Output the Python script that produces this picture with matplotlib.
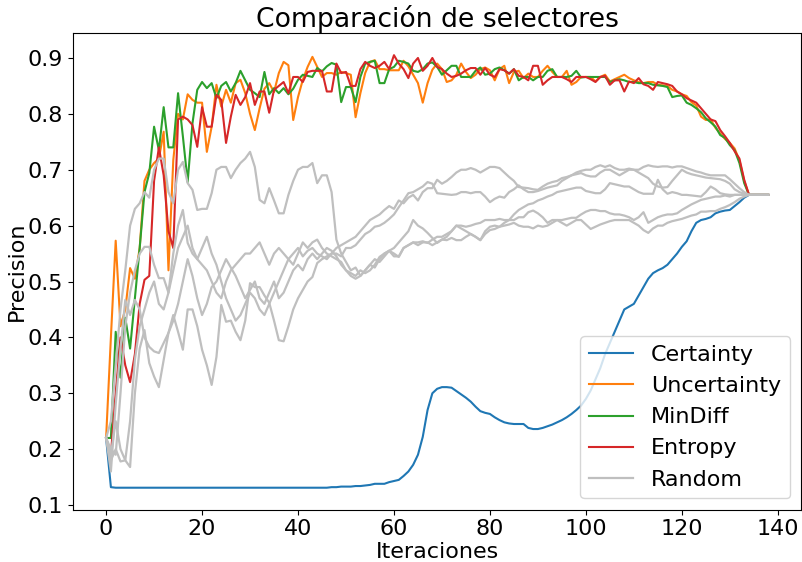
import matplotlib
matplotlib.use("Agg")
import matplotlib.pyplot as plt
import numpy as np

iters = np.arange(139)

certainty = [
    0.22, 0.132, 0.131, 0.131, 0.131, 0.131, 0.131, 0.131, 0.131, 0.131,
    0.131, 0.131, 0.131, 0.131, 0.131, 0.131, 0.131, 0.131, 0.131, 0.131,
    0.131, 0.131, 0.131, 0.131, 0.131, 0.131, 0.131, 0.131, 0.131, 0.131,
    0.131, 0.131, 0.131, 0.131, 0.131, 0.131, 0.131, 0.131, 0.131, 0.131,
    0.131, 0.131, 0.131, 0.131, 0.131, 0.131, 0.131, 0.132, 0.132, 0.133,
    0.133, 0.133, 0.134, 0.134, 0.135, 0.136, 0.138, 0.138, 0.138, 0.141,
    0.143, 0.145, 0.152, 0.160, 0.172, 0.190, 0.222, 0.270, 0.300, 0.308,
    0.311, 0.311, 0.310, 0.304, 0.298, 0.292, 0.285, 0.276, 0.268, 0.265,
    0.263, 0.257, 0.252, 0.248, 0.246, 0.245, 0.245, 0.245, 0.238, 0.236,
    0.236, 0.238, 0.241, 0.244, 0.248, 0.252, 0.257, 0.263, 0.270, 0.278,
    0.290, 0.305, 0.325, 0.345, 0.370, 0.390, 0.410, 0.430, 0.450, 0.455,
    0.460, 0.475, 0.490, 0.505, 0.515, 0.520, 0.524, 0.530, 0.540, 0.550,
    0.562, 0.572, 0.590, 0.605, 0.610, 0.612, 0.615, 0.622, 0.625, 0.627,
    0.628, 0.635, 0.642, 0.650, 0.655, 0.655, 0.655, 0.655, 0.655,
]

uncertainty = [
    0.22, 0.40, 0.573, 0.42, 0.45, 0.524, 0.505, 0.56, 0.68, 0.70,
    0.712, 0.72, 0.768, 0.52, 0.717, 0.80, 0.79, 0.835, 0.825, 0.82,
    0.82, 0.732, 0.777, 0.852, 0.813, 0.843, 0.82, 0.855, 0.861, 0.837,
    0.80, 0.771, 0.81, 0.845, 0.855, 0.839, 0.873, 0.893, 0.887, 0.789,
    0.83, 0.861, 0.884, 0.902, 0.884, 0.866, 0.873, 0.873, 0.870, 0.875,
    0.873, 0.870, 0.794, 0.837, 0.873, 0.893, 0.896, 0.880, 0.880, 0.878,
    0.878, 0.878, 0.895, 0.885, 0.870, 0.855, 0.820, 0.855, 0.879, 0.890,
    0.880, 0.857, 0.860, 0.870, 0.890, 0.875, 0.864, 0.870, 0.880, 0.883,
    0.878, 0.860, 0.880, 0.886, 0.855, 0.875, 0.877, 0.864, 0.872, 0.866,
    0.866, 0.877, 0.886, 0.875, 0.866, 0.866, 0.877, 0.852, 0.857, 0.866,
    0.866, 0.866, 0.858, 0.866, 0.870, 0.858, 0.862, 0.866, 0.870, 0.864,
    0.860, 0.857, 0.855, 0.857, 0.857, 0.852, 0.851, 0.850, 0.843, 0.840,
    0.835, 0.832, 0.821, 0.815, 0.795, 0.789, 0.790, 0.775, 0.765, 0.755,
    0.748, 0.738, 0.717, 0.680, 0.655, 0.655, 0.655, 0.655, 0.655,
]

mindiff = [
    0.22, 0.22, 0.41, 0.328, 0.435, 0.38, 0.47, 0.56, 0.66, 0.694,
    0.777, 0.735, 0.812, 0.74, 0.74, 0.837, 0.76, 0.678, 0.783, 0.843,
    0.857, 0.846, 0.855, 0.828, 0.85, 0.857, 0.84, 0.855, 0.877, 0.86,
    0.843, 0.837, 0.83, 0.875, 0.835, 0.846, 0.837, 0.846, 0.835, 0.845,
    0.861, 0.870, 0.868, 0.866, 0.882, 0.876, 0.885, 0.891, 0.888, 0.821,
    0.848, 0.848, 0.821, 0.866, 0.890, 0.893, 0.895, 0.855, 0.855, 0.880,
    0.884, 0.895, 0.893, 0.890, 0.877, 0.875, 0.880, 0.890, 0.892, 0.884,
    0.870, 0.878, 0.886, 0.886, 0.866, 0.866, 0.866, 0.877, 0.883, 0.870,
    0.872, 0.880, 0.883, 0.878, 0.872, 0.880, 0.860, 0.866, 0.866, 0.860,
    0.866, 0.866, 0.877, 0.880, 0.866, 0.866, 0.866, 0.868, 0.877, 0.865,
    0.866, 0.866, 0.866, 0.866, 0.866, 0.857, 0.860, 0.862, 0.860, 0.857,
    0.857, 0.855, 0.855, 0.855, 0.852, 0.851, 0.850, 0.848, 0.830, 0.832,
    0.833, 0.820, 0.816, 0.810, 0.803, 0.792, 0.785, 0.777, 0.762, 0.757,
    0.744, 0.735, 0.712, 0.676, 0.655, 0.655, 0.655, 0.655, 0.655,
]

entropy = [
    0.22, 0.19, 0.30, 0.40, 0.35, 0.32, 0.37, 0.46, 0.503, 0.51,
    0.68, 0.74, 0.69, 0.59, 0.56, 0.79, 0.795, 0.79, 0.78, 0.741,
    0.812, 0.777, 0.777, 0.834, 0.825, 0.748, 0.795, 0.834, 0.816, 0.83,
    0.855, 0.816, 0.84, 0.84, 0.802, 0.843, 0.85, 0.857, 0.837, 0.866,
    0.866, 0.857, 0.875, 0.877, 0.877, 0.877, 0.840, 0.840, 0.890, 0.873,
    0.875, 0.850, 0.850, 0.880, 0.893, 0.886, 0.882, 0.886, 0.893, 0.880,
    0.905, 0.890, 0.880, 0.864, 0.890, 0.900, 0.877, 0.886, 0.900, 0.884,
    0.880, 0.872, 0.866, 0.868, 0.872, 0.878, 0.882, 0.882, 0.870, 0.882,
    0.870, 0.866, 0.880, 0.878, 0.872, 0.880, 0.868, 0.866, 0.860, 0.886,
    0.886, 0.852, 0.860, 0.866, 0.866, 0.866, 0.862, 0.857, 0.866, 0.866,
    0.866, 0.862, 0.857, 0.866, 0.868, 0.852, 0.860, 0.860, 0.840, 0.858,
    0.855, 0.864, 0.853, 0.850, 0.843, 0.857, 0.855, 0.853, 0.850, 0.840,
    0.835, 0.828, 0.824, 0.820, 0.810, 0.800, 0.790, 0.787, 0.771, 0.760,
    0.748, 0.733, 0.720, 0.682, 0.655, 0.655, 0.655, 0.655, 0.655,
]

random_runs = [
    [0.22, 0.25, 0.35, 0.45, 0.52, 0.60, 0.63, 0.64, 0.66, 0.65,
     0.70, 0.72, 0.72, 0.66, 0.64, 0.70, 0.714, 0.676, 0.664, 0.628,
     0.63, 0.63, 0.658, 0.70, 0.705, 0.705, 0.685, 0.70, 0.712, 0.72,
     0.732, 0.705, 0.646, 0.64, 0.667, 0.645, 0.622, 0.622, 0.655, 0.68,
     0.70, 0.705, 0.705, 0.712, 0.676, 0.69, 0.69, 0.66, 0.575, 0.55,
     0.535, 0.52, 0.525, 0.51, 0.52, 0.53, 0.525, 0.54, 0.55, 0.555,
     0.545, 0.545, 0.56, 0.565, 0.57, 0.565, 0.57, 0.57, 0.565, 0.57,
     0.575, 0.574, 0.578, 0.574, 0.574, 0.58, 0.585, 0.58, 0.574, 0.59,
     0.598, 0.60, 0.598, 0.605, 0.61, 0.61, 0.615, 0.615, 0.624, 0.627,
     0.622, 0.615, 0.605, 0.61, 0.61, 0.61, 0.612, 0.614, 0.614, 0.62,
     0.625, 0.628, 0.628, 0.626, 0.626, 0.622, 0.62, 0.62, 0.618, 0.615,
     0.61, 0.615, 0.624, 0.605, 0.61, 0.615, 0.618, 0.62, 0.62, 0.622,
     0.628, 0.633, 0.638, 0.642, 0.646, 0.648, 0.65, 0.652, 0.652, 0.654,
     0.652, 0.655, 0.655, 0.655, 0.655, 0.655, 0.655, 0.655, 0.655],
    [0.22, 0.20, 0.19, 0.30, 0.42, 0.48, 0.52, 0.55, 0.562, 0.562,
     0.53, 0.506, 0.506, 0.48, 0.55, 0.60, 0.628, 0.569, 0.55, 0.54,
     0.53, 0.52, 0.50, 0.48, 0.47, 0.50, 0.52, 0.53, 0.54, 0.55,
     0.55, 0.56, 0.57, 0.55, 0.53, 0.55, 0.56, 0.55, 0.54, 0.55,
     0.56, 0.545, 0.555, 0.56, 0.55, 0.545, 0.54, 0.55, 0.56, 0.565,
     0.57, 0.575, 0.58, 0.59, 0.60, 0.61, 0.615, 0.62, 0.628, 0.635,
     0.63, 0.645, 0.64, 0.65, 0.655, 0.645, 0.66, 0.667, 0.667, 0.682,
     0.675, 0.68, 0.687, 0.695, 0.70, 0.70, 0.703, 0.70, 0.695, 0.70,
     0.705, 0.705, 0.703, 0.695, 0.687, 0.68, 0.669, 0.668, 0.667, 0.665,
     0.664, 0.67, 0.675, 0.678, 0.68, 0.685, 0.687, 0.69, 0.695, 0.698,
     0.70, 0.70, 0.705, 0.708, 0.705, 0.708, 0.703, 0.70, 0.70, 0.702,
     0.70, 0.70, 0.705, 0.708, 0.706, 0.705, 0.706, 0.706, 0.704, 0.706,
     0.706, 0.703, 0.70, 0.697, 0.695, 0.692, 0.69, 0.69, 0.69, 0.69,
     0.683, 0.675, 0.667, 0.66, 0.655, 0.655, 0.655, 0.655, 0.655],
    [0.22, 0.18, 0.20, 0.178, 0.18, 0.168, 0.30, 0.38, 0.413, 0.354,
     0.33, 0.311, 0.36, 0.408, 0.44, 0.41, 0.378, 0.45, 0.45, 0.42,
     0.378, 0.35, 0.315, 0.365, 0.458, 0.428, 0.43, 0.41, 0.395, 0.43,
     0.497, 0.49, 0.49, 0.475, 0.462, 0.43, 0.395, 0.393, 0.42, 0.45,
     0.47, 0.485, 0.50, 0.508, 0.533, 0.54, 0.545, 0.55, 0.55, 0.545,
     0.56, 0.56, 0.565, 0.575, 0.585, 0.59, 0.598, 0.60, 0.605, 0.612,
     0.62, 0.633, 0.645, 0.658, 0.66, 0.665, 0.67, 0.678, 0.675, 0.658,
     0.657, 0.656, 0.655, 0.656, 0.66, 0.66, 0.658, 0.66, 0.66, 0.652,
     0.642, 0.648, 0.652, 0.65, 0.66, 0.665, 0.672, 0.665, 0.66, 0.66,
     0.662, 0.665, 0.668, 0.67, 0.672, 0.68, 0.685, 0.69, 0.692, 0.694,
     0.69, 0.688, 0.688, 0.695, 0.70, 0.70, 0.695, 0.69, 0.695, 0.70,
     0.70, 0.695, 0.69, 0.685, 0.675, 0.67, 0.668, 0.669, 0.68, 0.69,
     0.70, 0.695, 0.692, 0.69, 0.688, 0.686, 0.685, 0.684, 0.683, 0.68,
     0.675, 0.665, 0.66, 0.657, 0.655, 0.655, 0.655, 0.655, 0.655],
    [0.22, 0.16, 0.28, 0.38, 0.467, 0.44, 0.467, 0.45, 0.40, 0.383,
     0.375, 0.372, 0.39, 0.408, 0.43, 0.46, 0.50, 0.54, 0.51, 0.47,
     0.44, 0.46, 0.49, 0.50, 0.52, 0.54, 0.525, 0.51, 0.49, 0.47,
     0.485, 0.50, 0.47, 0.46, 0.48, 0.50, 0.47, 0.48, 0.50, 0.52,
     0.53, 0.52, 0.54, 0.55, 0.54, 0.55, 0.56, 0.555, 0.545, 0.53,
     0.52, 0.515, 0.51, 0.52, 0.515, 0.52, 0.53, 0.544, 0.55, 0.555,
     0.55, 0.544, 0.56, 0.565, 0.57, 0.57, 0.572, 0.569, 0.575, 0.58,
     0.58, 0.585, 0.59, 0.60, 0.60, 0.598, 0.60, 0.603, 0.605, 0.61,
     0.61, 0.61, 0.612, 0.61, 0.61, 0.62, 0.628, 0.633, 0.638, 0.64,
     0.645, 0.648, 0.652, 0.655, 0.66, 0.662, 0.664, 0.666, 0.668, 0.668,
     0.662, 0.66, 0.658, 0.658, 0.665, 0.676, 0.674, 0.672, 0.67, 0.67,
     0.665, 0.66, 0.657, 0.657, 0.657, 0.682, 0.665, 0.657, 0.66, 0.658,
     0.655, 0.655, 0.654, 0.653, 0.652, 0.66, 0.67, 0.665, 0.658, 0.656,
     0.655, 0.655, 0.655, 0.655, 0.655, 0.655, 0.655, 0.655, 0.655],
    [0.22, 0.19, 0.25, 0.20, 0.18, 0.25, 0.36, 0.42, 0.45, 0.48,
     0.50, 0.46, 0.45, 0.48, 0.52, 0.56, 0.58, 0.60, 0.56, 0.54,
     0.56, 0.58, 0.55, 0.53, 0.50, 0.47, 0.45, 0.43, 0.44, 0.46,
     0.48, 0.47, 0.45, 0.44, 0.46, 0.48, 0.50, 0.52, 0.54, 0.53,
     0.55, 0.57, 0.56, 0.57, 0.575, 0.56, 0.55, 0.545, 0.54, 0.535,
     0.52, 0.51, 0.505, 0.51, 0.52, 0.53, 0.54, 0.535, 0.545, 0.555,
     0.56, 0.57, 0.58, 0.59, 0.61, 0.60, 0.595, 0.587, 0.578, 0.569,
     0.575, 0.58, 0.59, 0.60, 0.595, 0.59, 0.585, 0.58, 0.574, 0.585,
     0.592, 0.594, 0.598, 0.60, 0.602, 0.605, 0.60, 0.598, 0.598, 0.595,
     0.60, 0.598, 0.60, 0.605, 0.61, 0.605, 0.60, 0.605, 0.61, 0.61,
     0.602, 0.594, 0.598, 0.602, 0.605, 0.608, 0.61, 0.61, 0.61, 0.61,
     0.605, 0.60, 0.592, 0.587, 0.595, 0.60, 0.60, 0.605, 0.608, 0.61,
     0.612, 0.615, 0.618, 0.62, 0.625, 0.625, 0.626, 0.626, 0.63, 0.633,
     0.637, 0.642, 0.648, 0.652, 0.655, 0.655, 0.655, 0.655, 0.655],
]

plt.rcParams["font.family"] = "DejaVu Sans"
plt.rcParams["font.size"] = 16

fig = plt.figure(figsize=(8.03, 5.62), dpi=100)
ax = fig.add_axes([0.0909, 0.0934, 0.907, 0.8472])

ax.plot(iters, certainty, color="tab:blue", lw=1.5, label="Certainty")
ax.plot(iters, uncertainty, color="tab:orange", lw=1.5, label="Uncertainty")
ax.plot(iters, mindiff, color="tab:green", lw=1.5, label="MinDiff")
ax.plot(iters, entropy, color="tab:red", lw=1.5, label="Entropy")
for k, run in enumerate(random_runs):
    ax.plot(iters, run, color="#bfbfbf", lw=1.6,
            label="Random" if k == 0 else None)

ax.set_xlim(-6.9, 144.9)
ax.set_ylim(0.092, 0.944)
ax.set_xticks([0, 20, 40, 60, 80, 100, 120, 140])
ax.set_yticks([0.1, 0.2, 0.3, 0.4, 0.5, 0.6, 0.7, 0.8, 0.9])

ax.set_title("Comparación de selectores", pad=4)
ax.set_xlabel("Iteraciones", labelpad=2)
ax.set_ylabel("Precision", labelpad=1)
ax.legend(loc="lower right")

fig.savefig("out.png", dpi=100)
plt.close()
